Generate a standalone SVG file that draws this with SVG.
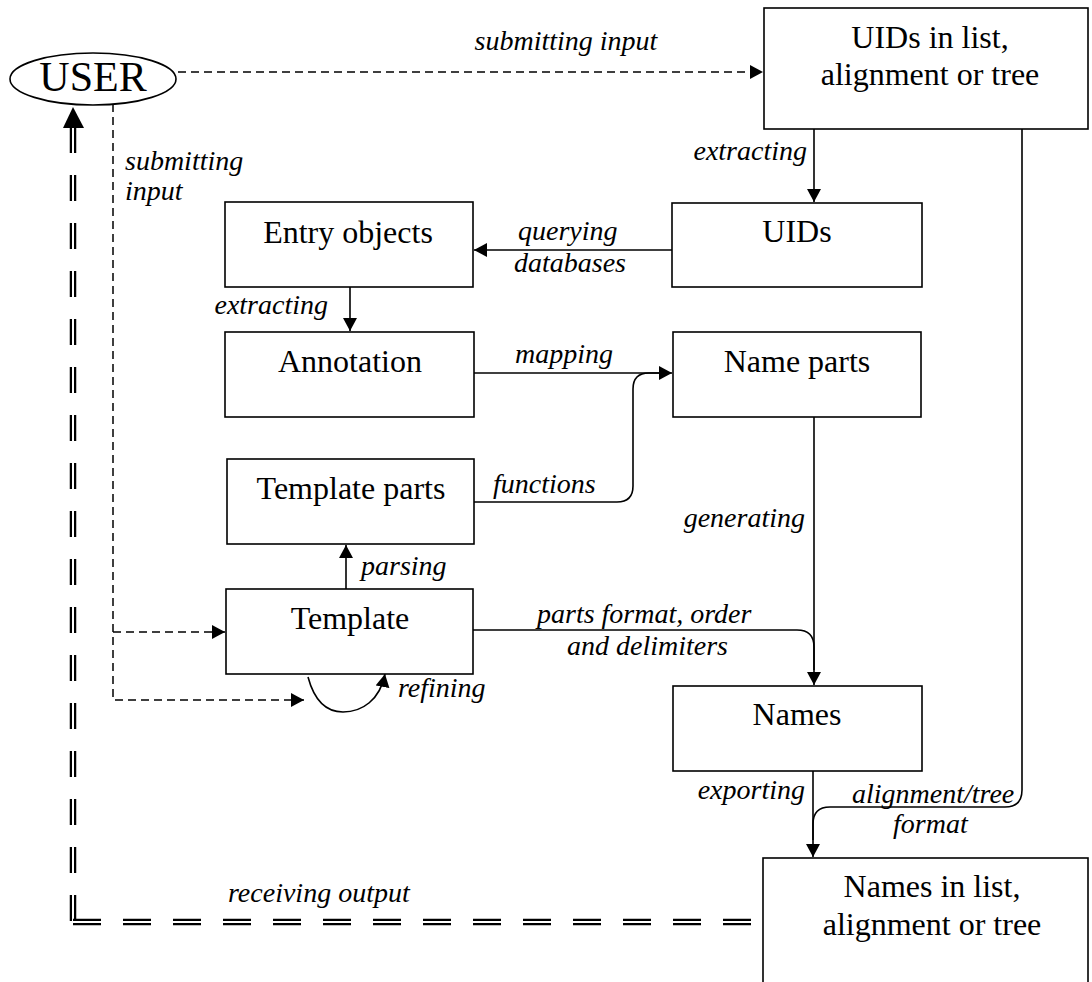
<svg xmlns="http://www.w3.org/2000/svg" width="1092" height="982" viewBox="0 0 1092 982">
<style>
text{font-family:'Liberation Serif','Times New Roman',Tinos,'DejaVu Serif','Noto Serif',serif}
.box{fill:#fff;stroke:#000;stroke-width:1.6}
.nt{font-size:32px;fill:#000;text-anchor:middle}
.lb{font-size:28px;font-style:italic;fill:#000}
.e{text-anchor:end}
.m{text-anchor:middle}
.c{fill:none;stroke:#000;stroke-width:1.6}
.d{fill:none;stroke:#000;stroke-width:1.5;stroke-dasharray:8 5}
</style>
<defs>
<marker id="ah" markerUnits="userSpaceOnUse" markerWidth="14" markerHeight="14" refX="13" refY="7" orient="auto">
<path d="M0,0 L13,7 L0,14 z" fill="#000"/>
</marker>
</defs>
<g id="connectors">
<path class="d" d="M178,72 H763" marker-end="url(#ah)"/>
<path class="d" d="M113,104 V700 H304" marker-end="url(#ah)"/>
<path class="d" d="M113,632 H225" marker-end="url(#ah)"/>
<path class="c" d="M814,129 V202" marker-end="url(#ah)"/>
<path class="c" d="M672,250 H474" marker-end="url(#ah)"/>
<path class="c" d="M350,287 V331" marker-end="url(#ah)"/>
<path class="c" d="M474,373 H672" marker-end="url(#ah)"/>
<path class="c" d="M474,502 H617 Q633,502 633,486 V389 Q633,373 649,373 H660"/>
<path class="c" d="M346,589 V545" marker-end="url(#ah)"/>
<path class="c" d="M308,677 C315,703 328,712 343,712 C362,712 380,700 385,674" marker-end="url(#ah)"/>
<path class="c" d="M814,417 V685" marker-end="url(#ah)"/>
<path class="c" d="M473,630 H797 Q814,630 814,647 V670"/>
<path class="c" d="M813,771 V857" marker-end="url(#ah)"/>
<path class="c" d="M1022,129 V790 Q1022,807 1005,807 H830 Q813,807 813,824 V840"/>
<path d="M73,127 V922" fill="none" stroke="#000" stroke-width="6.5" stroke-dasharray="26 22"/>
<path d="M73,127 V922" fill="none" stroke="#fff" stroke-width="2" stroke-dasharray="26 22"/>
<path d="M73,922 H757" fill="none" stroke="#000" stroke-width="6.5" stroke-dasharray="28 22"/>
<path d="M71,922 H757" fill="none" stroke="#fff" stroke-width="2" stroke-dasharray="30 20"/>
<polygon points="73,107 63,128 84,128" fill="#000"/>
<text class="lb m" x="566" y="50">submitting input</text>
<text class="lb" x="125" y="170">submitting</text>
<text class="lb" x="125" y="200">input</text>
<text class="lb e" x="807" y="160">extracting</text>
<text class="lb" x="518" y="240">querying</text>
<text class="lb" x="514" y="272">databases</text>
<text class="lb e" x="328" y="314">extracting</text>
<text class="lb" x="515" y="363">mapping</text>
<text class="lb" x="493" y="493">functions</text>
<text class="lb" x="361" y="575">parsing</text>
<text class="lb" x="398" y="697">refining</text>
<text class="lb e" x="805" y="527">generating</text>
<text class="lb" x="537" y="623">parts format, order</text>
<text class="lb" x="567" y="655">and delimiters</text>
<text class="lb e" x="805" y="799">exporting</text>
<text class="lb" x="852" y="803">alignment/tree</text>
<text class="lb" x="893" y="833">format</text>
<text class="lb" x="228" y="902">receiving output</text>
</g>
<g id="user">
<ellipse cx="93" cy="79" rx="83" ry="26" fill="#fff" stroke="#000" stroke-width="1.6"/>
<text class="nt" x="93" y="91" style="font-size:42px">USER</text>
</g>
<g id="uids-in-list">
<rect class="box" x="764" y="8" width="324" height="121"/>
<text class="nt" x="930" y="48">UIDs in list,</text>
<text class="nt" x="930" y="85">alignment or tree</text>
</g>
<g id="uids">
<rect class="box" x="672" y="203" width="250" height="84"/>
<text class="nt" x="797" y="242">UIDs</text>
</g>
<g id="entry-objects">
<rect class="box" x="225" y="202" width="248" height="85"/>
<text class="nt" x="348" y="243">Entry objects</text>
</g>
<g id="annotation">
<rect class="box" x="225" y="332" width="249" height="85"/>
<text class="nt" x="350" y="372">Annotation</text>
</g>
<g id="name-parts">
<rect class="box" x="673" y="332" width="248" height="85"/>
<text class="nt" x="797" y="372">Name parts</text>
</g>
<g id="template-parts">
<rect class="box" x="227" y="459" width="247" height="85"/>
<text class="nt" x="351" y="499">Template parts</text>
</g>
<g id="template">
<rect class="box" x="226" y="589" width="247" height="85"/>
<text class="nt" x="350" y="629">Template</text>
</g>
<g id="names">
<rect class="box" x="673" y="686" width="249" height="85"/>
<text class="nt" x="797" y="725">Names</text>
</g>
<g id="names-in-list">
<rect class="box" x="763" y="858" width="325" height="140"/>
<text class="nt" x="932" y="897">Names in list,</text>
<text class="nt" x="932" y="935">alignment or tree</text>
</g>
</svg>
